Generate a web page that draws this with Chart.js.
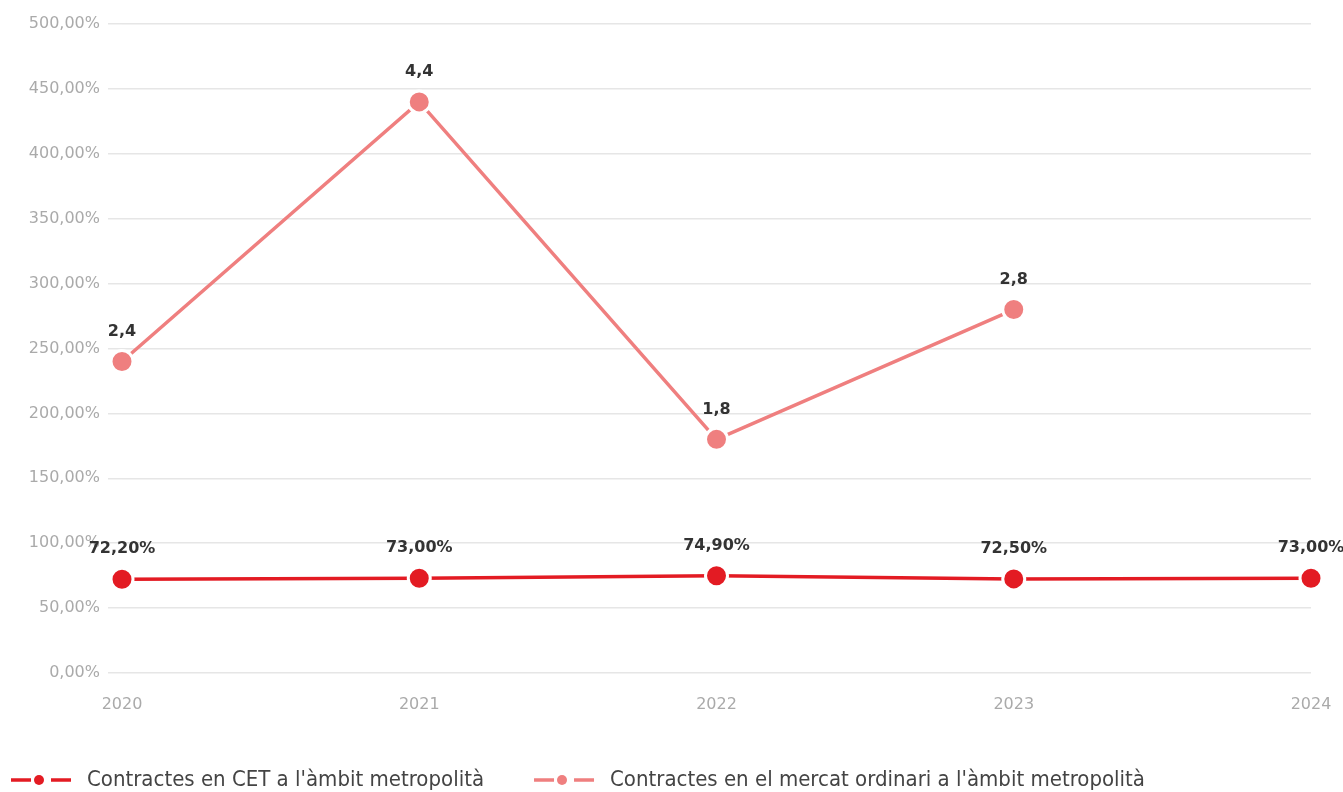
<!DOCTYPE html>
<html><head><meta charset="utf-8">
<script src="https://cdn.jsdelivr.net/npm/chart.js@4"></script>
<style>html,body{margin:0;padding:0;background:#fff}#wrap{width:1343px;height:792px}</style>
</head><body><div id="wrap"><canvas id="c"></canvas></div>
<script>
const categories = ['2020','2021','2022','2023','2024'];
const cetValues = [72.2, 73.0, 74.9, 72.5, 73.0];
const ordinariValues = [240, 440, 180, 280, null];
const ordinariLabels = ['2,4','4,4','1,8','2,8',''];
const seriesNames = ["Contractes en CET a l'àmbit metropolità", "Contractes en el mercat ordinari a l'àmbit metropolità"];
const yTicks = [0,50,100,150,200,250,300,350,400,450,500];

const RED = '#e31b23';
const SALMON = '#ef7f7f';
const TICK_FONT = '"DejaVu Sans", Verdana, sans-serif';

const fmtPct = v => v.toFixed(2).replace('.', ',') + '%';

const labelPlugin = {
  id: 'valLabels',
  afterDatasetsDraw(chart){
    const ctx = chart.ctx;
    ctx.save();
    ctx.font = 'bold 16px "DejaVu Sans", sans-serif';
    ctx.fillStyle = '#333';
    ctx.textAlign = 'center';
    ctx.textBaseline = 'middle';
    chart.data.datasets.forEach((ds, di) => {
      const meta = chart.getDatasetMeta(di);
      meta.data.forEach((pt, i) => {
        const v = ds.data[i];
        if (v === null || v === undefined) return;
        const txt = di === 0 ? fmtPct(v) : ordinariLabels[i];
        ctx.fillText(txt, pt.x, pt.y - 30);
      });
    });
    ctx.restore();
  }
};

const legendPlugin = {
  id: 'lineLegend',
  afterDraw(chart){
    const ctx = chart.ctx;
    ctx.save();
    const y = 780;
    let x = 11;
    ctx.font = '22px "Liberation Sans Narrow", "DejaVu Sans Condensed", sans-serif';
    ctx.textBaseline = 'middle';
    ctx.textAlign = 'left';
    chart.data.datasets.forEach((ds, i) => {
      const c = ds.borderColor;
      ctx.strokeStyle = c; ctx.lineWidth = 3.5; ctx.lineCap = 'butt';
      ctx.beginPath(); ctx.moveTo(x, y); ctx.lineTo(x + 20, y); ctx.moveTo(x + 40, y); ctx.lineTo(x + 60, y); ctx.stroke();
      ctx.fillStyle = c; ctx.beginPath(); ctx.arc(x + 28, y, 5, 0, Math.PI * 2); ctx.fill();
      ctx.fillStyle = '#444';
      const tx = x + 76;
      ctx.fillText(ds.label, tx, y);
      x = tx + ctx.measureText(ds.label).width + 50;
    });
    ctx.restore();
  }
};

new Chart(document.getElementById('c'), {
  type: 'line',
  data: {
    labels: categories,
    datasets: [
      { label: seriesNames[0], data: cetValues, borderColor: RED, backgroundColor: RED,
        pointBackgroundColor: RED, pointBorderColor: '#fff', pointBorderWidth: 3, pointRadius: 11,
        borderWidth: 3.5, tension: 0 },
      { label: seriesNames[1], data: ordinariValues, borderColor: SALMON, backgroundColor: SALMON,
        pointBackgroundColor: SALMON, pointBorderColor: '#fff', pointBorderWidth: 3, pointRadius: 11,
        borderWidth: 3.5, tension: 0 }
    ]
  },
  options: {
    responsive: true, maintainAspectRatio: false, animation: false,
    layout: { padding: { top: 24, right: 32, left: 0, bottom: 78 } },
    plugins: { tooltip: { enabled: false }, legend: { display: false } },
    scales: {
      x: {
        offset: false,
        grid: { display: false },
        border: { display: false },
        afterFit(scale){ scale.height = 41; scale.paddingLeft = 0; scale.paddingRight = 0; },
        ticks: { color: '#aaa', font: { size: 16, family: TICK_FONT }, padding: 14, maxRotation: 0 }
      },
      y: {
        min: 0, max: 500,
        afterBuildTicks(scale){ scale.ticks = yTicks.map(v => ({ value: v })); },
        afterFit(scale){ scale.width = 122; },
        grid: { color: '#e6e6e6', lineWidth: 1.5, tickLength: 14, drawTicks: true },
        border: { display: false },
        ticks: { color: '#aaa', font: { size: 16, family: TICK_FONT }, padding: 8,
          callback: v => fmtPct(v) }
      }
    }
  },
  plugins: [labelPlugin, legendPlugin]
});
</script>
</body></html>
